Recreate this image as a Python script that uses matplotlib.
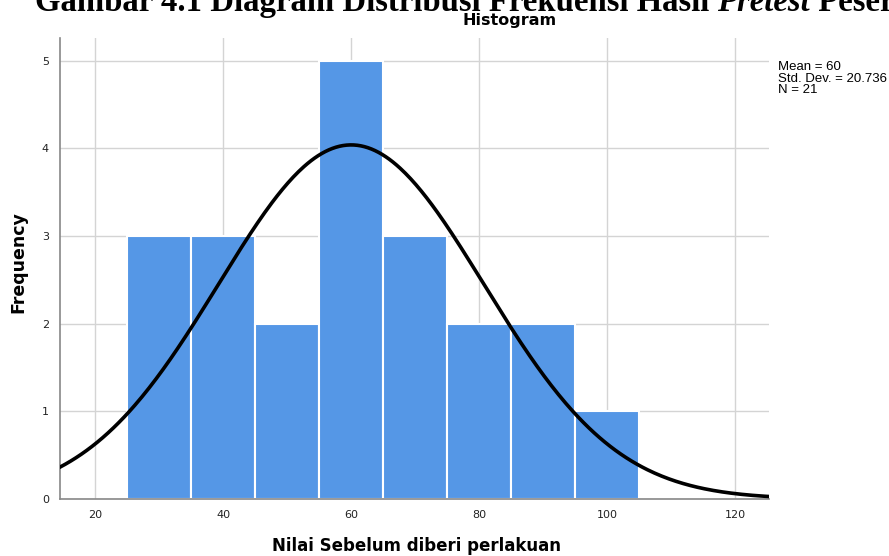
import numpy as np
import matplotlib
matplotlib.use("Agg")
import matplotlib.pyplot as plt

bin_edges = [25, 35, 45, 55, 65, 75, 85, 95, 105]
frequencies = [3, 3, 2, 5, 3, 2, 2, 1]
mean_val = 60
std_val = 20.736
n_val = 21
x_ticks = [20, 40, 60, 80, 100, 120]
y_ticks = [0, 1, 2, 3, 4, 5]

W, H = 889, 556
fig = plt.figure(figsize=(W / 100, H / 100), dpi=100)
L, R, B, T = 60, 769, 499, 38
ax = fig.add_axes([L / W, 1 - B / H, (R - L) / W, (B - T) / H])

lefts = np.array(bin_edges[:-1])
widths = np.diff(bin_edges)
ax.bar(lefts, frequencies, width=widths, align="edge", color="#5597E6",
       edgecolor="white", linewidth=1.5, zorder=2)

xs = np.linspace(14.5, 125.5, 400)
bw = widths[0]
curve = n_val * bw / (std_val * np.sqrt(2 * np.pi)) * np.exp(-0.5 * ((xs - mean_val) / std_val) ** 2)
ax.plot(xs, curve, color="black", linewidth=2.6, zorder=3)

ax.set_xlim(14.5, 125.3)
ax.set_ylim(0, 5.26)
ax.set_xticks(x_ticks)
ax.set_yticks(y_ticks)
ax.grid(True, color="#d4d4d4", linewidth=1.0, zorder=0)
ax.set_axisbelow(True)
for s in ["top", "right"]:
    ax.spines[s].set_visible(False)
for s in ["left", "bottom"]:
    ax.spines[s].set_color("#888888")
    ax.spines[s].set_linewidth(1.2)
ax.tick_params(length=0, labelsize=8, colors="#222222", pad=8)
for lbl in ax.get_xticklabels() + ax.get_yticklabels():
    lbl.set_fontfamily("DejaVu Sans")

fig.text(417 / W, 1 - 546 / H, "Nilai Sebelum diberi perlakuan", ha="center", va="center",
         fontsize=12, fontfamily="DejaVu Sans", fontweight="bold")
fig.text(18 / W, 1 - 262 / H, "Frequency", ha="center", va="center", rotation=90,
         fontsize=12.5, fontfamily="DejaVu Sans", fontweight="bold")

fig.text(510 / W, 1 - 21 / H, "Histogram", ha="center", va="center", fontsize=11.5,
         fontfamily="DejaVu Sans", fontweight="bold")
fig.text(778 / W, 1 - 61 / H, f"Mean = {mean_val}\nStd. Dev. = {std_val}\nN = {n_val}",
         ha="left", va="top", fontsize=9.5, fontfamily="Liberation Sans", linespacing=0.95)

# Cropped figure caption at the very top (bold serif, "Pretest" italic)
fig.canvas.draw()
renderer = fig.canvas.get_renderer()
parts = [("Gambar 4.1 Diagram Distribusi Frekuensi Hasil ", "normal"),
         ("Pretest", "italic"),
         (" Peserta", "normal")]
x_px = 35
for txt, style in parts:
    t = fig.text(x_px / W, 1 - 11 / H, txt, ha="left", va="baseline", fontsize=23.6,
                 fontfamily="Liberation Serif", fontweight="bold", fontstyle=style)
    bb = t.get_window_extent(renderer=renderer)
    x_px += bb.width

fig.savefig("out.png", dpi=100)
